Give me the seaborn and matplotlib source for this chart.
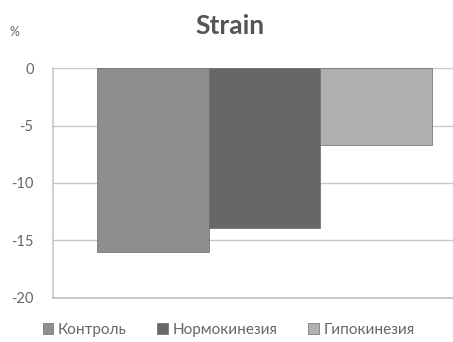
import matplotlib
matplotlib.use("Agg")
import matplotlib.pyplot as plt
import seaborn as sns
import pandas as pd

# Strain values (%) per group
groups = ["Контроль", "Нормокинезия", "Гипокинезия"]
strain = [-16.0, -13.9, -6.7]
category = ["Strain", "Strain", "Strain"]
y_ticks = [0, -5, -10, -15, -20]

colors = ["#8e8e8e", "#676767", "#b0b0b0"]

sns.set_theme(style="white")
plt.rcParams["font.family"] = ["Lato", "DejaVu Sans"]

df = pd.DataFrame({"cat": category, "group": groups, "value": strain})

fig = plt.figure(figsize=(4.53, 3.42), dpi=100)
ax = fig.add_axes([0.117, 0.129, 0.883, 0.672])

sns.barplot(data=df, x="cat", y="value", hue="group", hue_order=groups,
            palette=colors, width=0.8, ax=ax, legend=True,
            edgecolor="#6a6a6a", linewidth=0.5, saturation=1)

ax.set_ylim(-20, 0)
ax.set_xlim(-0.505, 0.45)
ax.set_yticks(y_ticks)
ax.set_yticklabels([str(t) for t in y_ticks], color="#666666", fontsize=10.5)
ax.tick_params(axis="y", length=0, pad=14)
ax.set_xticks([])
ax.set_xlabel("")
ax.set_ylabel("")
ax.yaxis.grid(True, color="#c8c8c8", linewidth=1.0)
ax.set_axisbelow(True)
for side in ["top", "right"]:
    ax.spines[side].set_visible(False)
ax.spines["left"].set_color("#c8c8c8")
ax.spines["bottom"].set_color("#c0c0c0")

fig.text(0.508, 0.925, "Strain", ha="center", va="center",
         fontsize=19, fontweight="bold", color="#555555")
fig.text(0.031, 0.905, "%", ha="center", va="center",
         fontsize=9, color="#666666")

handles, labels = ax.get_legend_handles_labels()
ax.get_legend().remove()
fig.legend(handles, labels, loc="center", bbox_to_anchor=(0.505, 0.035),
           ncol=3, frameon=False, fontsize=11, handlelength=0.7,
           handleheight=0.7, handletextpad=0.3, columnspacing=2.0,
           labelcolor="#666666")

fig.savefig("out.png", dpi=100)
